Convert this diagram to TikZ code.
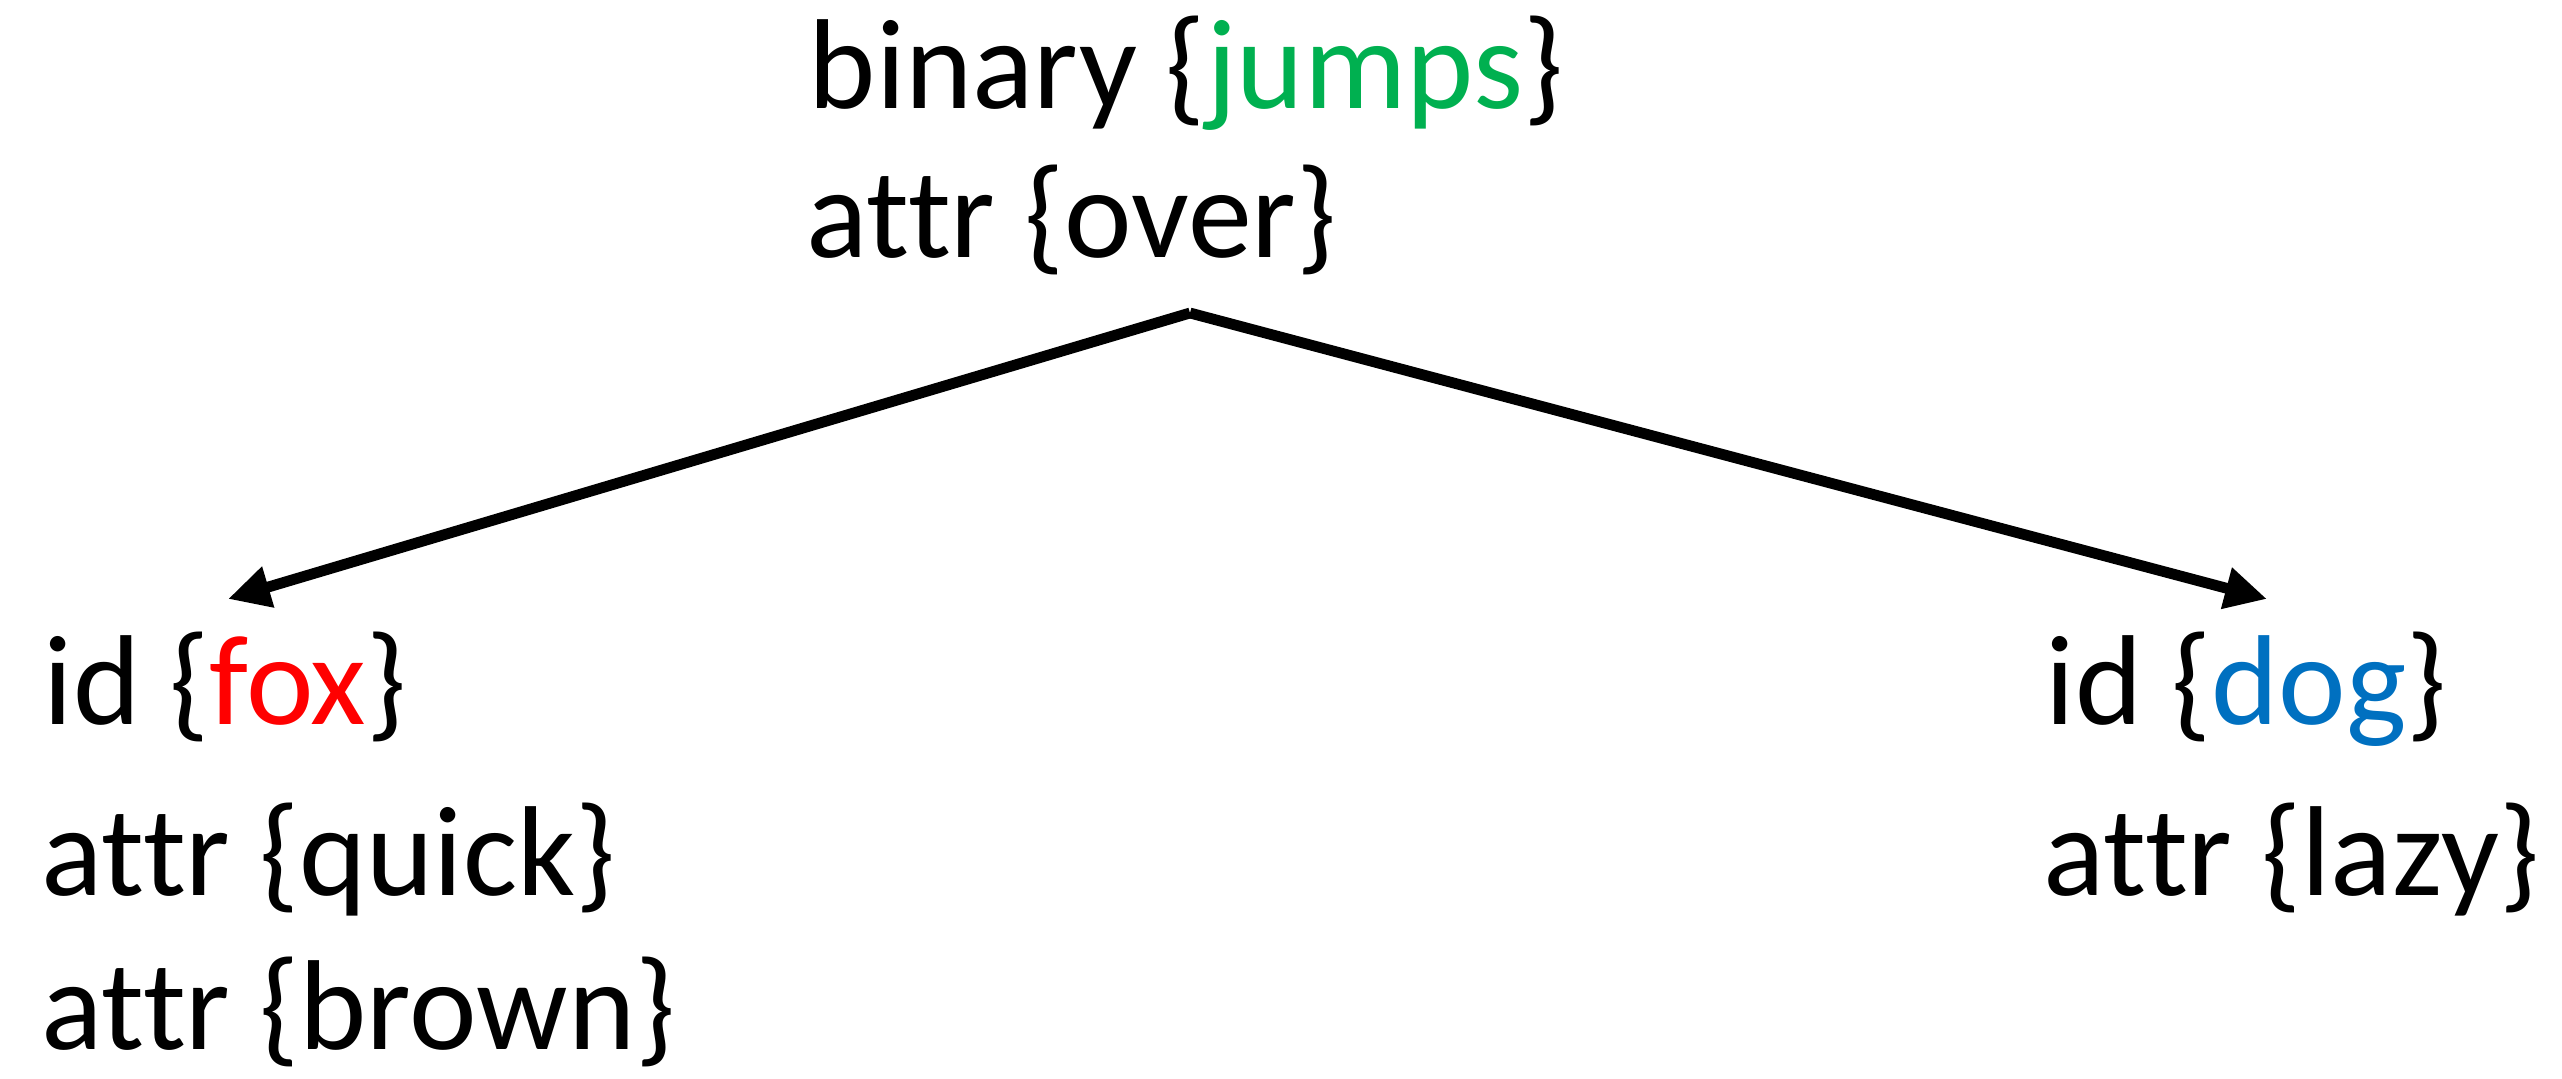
\documentclass[tikz,border=0pt]{standalone}
\usepackage{fontspec}
\setmainfont[Ligatures=NoCommon]{Carlito}
\usetikzlibrary{arrows.meta}
\definecolor{jgreen}{HTML}{00B050}
\definecolor{fred}{HTML}{FF0000}
\definecolor{dblue}{HTML}{0070C0}
\tikzset{
  lbl/.style={anchor=base west, inner sep=0pt, font=\fontsize{32}{38}\selectfont},
  edge/.style={line width=2.7pt, -{Triangle[length=10.5pt,width=10pt]}}
}
\begin{document}
\begin{tikzpicture}[x=0.25pt,y=-0.25pt]
\useasboundingbox (0,0) rectangle (2562,1079);
\node[lbl] (t1) at (808,109) {binary \{\textcolor{jgreen}{jumps}\}};
\node[lbl] (t2) at (806,258) {attr \{over\}};
\node[lbl] (l1) at (43,725) {id \{\textcolor{fred}{fox}\}};
\node[lbl] (l2) at (41,896) {attr \{quick\}};
\node[lbl] (l3) at (41,1049) {attr \{brown\}};
\node[lbl] (r1) at (2045,725) {id \{\textcolor{dblue}{dog}\}};
\node[lbl] (r2) at (2043,896) {attr \{lazy\}};
\coordinate (top) at (1190,313);
\coordinate (foxtip) at (228,599);
\coordinate (dogtip) at (2267,599);
\draw[edge] (top) -- (foxtip);
\draw[edge] (top) -- (dogtip);
\end{tikzpicture}
\end{document}
